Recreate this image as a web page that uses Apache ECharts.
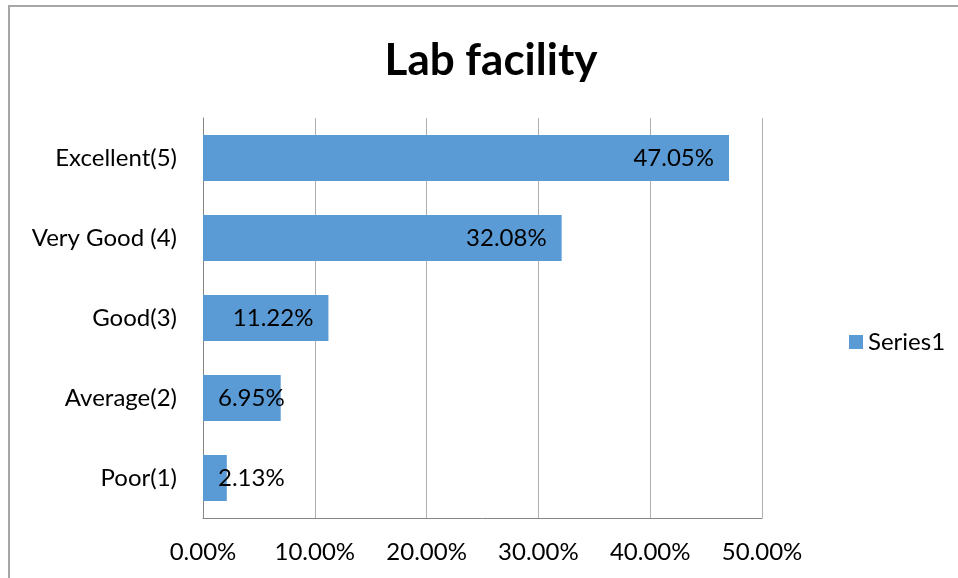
<!DOCTYPE html>
<html>
<head>
<meta charset="utf-8">
<script src="https://cdn.jsdelivr.net/npm/echarts@6/dist/echarts.min.js"></script>
<style>
  html, body { margin: 0; padding: 0; background: #fff; }
  #main { width: 958px; height: 578px; }
</style>
</head>
<body>
<div id="main"></div>
<script>
// categories bottom to top, as the axis draws them
var categories = ["Poor(1)", "Average(2)", "Good(3)", "Very Good (4)", "Excellent(5)"];
var values = [2.13, 6.95, 11.22, 32.08, 47.05];
var xTicks = [0, 10, 20, 30, 40, 50];

var font = "Lato, 'Open Sans', sans-serif";
var myChart = echarts.init(document.getElementById("main"));

var option = {
  backgroundColor: "#fff",
  animation: false,
  title: {
    text: "Lab facility",
    left: 486,
    top: 34,
    textAlign: "center",
    textStyle: { fontFamily: font, fontSize: 44, fontWeight: "bold", color: "#000" }
  },
  legend: {
    data: ["Series1"],
    left: 844,
    top: 325,
    itemWidth: 14,
    itemHeight: 14,
    itemGap: 8,
    icon: "rect",
    textStyle: { fontFamily: font, fontSize: 24, color: "#000" }
  },
  grid: { left: 203, right: 196, top: 118, bottom: 60 },
  xAxis: {
    type: "value",
    min: xTicks[0],
    max: xTicks[xTicks.length - 1],
    interval: 10,
    axisLine: { show: true, lineStyle: { color: "#868686" } },
    axisTick: { show: false },
    splitLine: { show: true, lineStyle: { color: "#b0b0b0", width: 1 } },
    axisLabel: {
      margin: 22,
      fontFamily: font,
      fontSize: 24,
      color: "#000",
      formatter: function (v) { return v.toFixed(2) + "%"; }
    }
  },
  yAxis: {
    type: "category",
    data: categories,
    axisLine: { show: true, lineStyle: { color: "#868686" } },
    axisTick: { show: false },
    axisLabel: { margin: 26, fontFamily: font, fontSize: 24, color: "#000" }
  },
  series: [
    {
      name: "Series1",
      type: "bar",
      barWidth: "57.5%",
      itemStyle: { color: "#5b9bd5" },
      label: {
        show: true,
        position: "insideRight",
        distance: 15,
        fontFamily: font,
        fontSize: 24,
        color: "#000",
        formatter: function (p) { return p.value.toFixed(2) + "%"; }
      },
      // short bars: label starts at the axis, like the original
      data: values.map(function (v) {
        return v < 10 ? { value: v, label: { position: "insideLeft" } } : v;
      })
    }
  ],
  graphic: [
    {
      type: "rect",
      shape: { x: 9, y: 6, width: 1000, height: 1000 },
      style: { fill: null, stroke: "#a6a6a6", lineWidth: 2 },
      silent: true
    }
  ]
};

myChart.setOption(option);
</script>
</body>
</html>
